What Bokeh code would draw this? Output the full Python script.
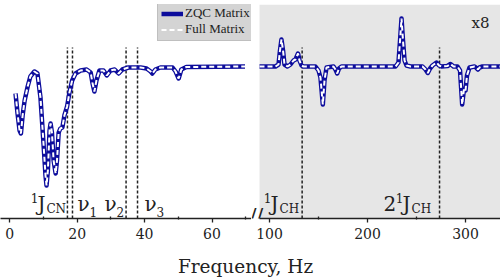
from bokeh.plotting import figure
from bokeh.models import Range1d, FixedTicker, Label, BoxAnnotation
from bokeh.layouts import row, column
from bokeh.core.properties import value
from bokeh.embed import file_html
from bokeh.resources import INLINE

# ---------------- data ----------------
left_freq = [1.7, 2.3, 2.9, 3.3, 3.8, 4.4, 5.3, 6.1, 7.3, 8.2, 9.1, 10.0, 10.6, 10.9,
             11.3, 11.8, 12.1, 12.5, 13.0, 13.6, 14.0, 14.5, 15.0, 15.6, 16.2, 17.0,
             17.7, 18.5, 19.5, 21.0, 22.8, 24.0, 24.5, 25.1, 25.7, 26.6, 27.8, 28.8,
             29.9, 31.1, 32.3, 33.4, 35.2, 38.8, 40.6, 41.8, 42.3, 43.2, 44.7, 48.3,
             49.2, 50.1, 50.9, 52.4, 69.8]
zqc_left = [-0.27, -0.47, -0.64, -0.67, -0.49, -0.34, -0.20, -0.10, -0.05, -0.07, -0.31,
            -0.77, -1.09, -1.19, -1.04, -0.64, -0.57, -0.66, -0.94, -1.07, -0.94, -0.66,
            -0.62, -0.61, -0.49, -0.40, -0.26, -0.14, -0.07, -0.04, -0.03, -0.06, -0.16,
            -0.25, -0.14, -0.04, -0.04, -0.09, -0.04, -0.03, -0.07, -0.03, -0.01, -0.01,
            -0.02, -0.05, -0.07, -0.03, -0.01, -0.01, -0.05, -0.12, -0.03, -0.005, 0.0]
full_left = list(zqc_left)

right_freq = [89.8, 106.1, 109.2, 110.7, 112.2, 113.8, 115.3, 118.4, 121.4, 124.5, 126.5,
              129.1, 130.6, 132.7, 134.7, 146.9, 150.0, 152.0, 154.4, 156.1, 158.2, 165.3,
              167.3, 169.1, 170.9, 173.5, 228.6, 231.6, 233.2, 234.7, 236.2, 237.8, 239.8,
              243.9, 256.1, 259.2, 261.5, 263.8, 266.3, 270.4, 273.0, 275.5, 281.6, 284.7,
              287.8, 291.8, 294.4, 296.6, 298.5, 300.0, 301.5, 304.1, 309.2, 311.2, 312.8,
              314.3, 317.3, 335.7]
zqc_right = [0.0, 0.0, 0.02, 0.16, 0.27, 0.16, 0.02, 0.0, 0.02, 0.06, 0.07,
             0.13, 0.06, 0.01, 0.0, 0.0, -0.04, -0.11, -0.38, -0.14, -0.01, 0.0,
             -0.03, -0.07, -0.02, 0.0, 0.0, 0.04, 0.26, 0.48, 0.26, 0.06, 0.01,
             0.0, 0.0, -0.03, -0.065, -0.02, 0.01, 0.04, 0.01, 0.0, 0.005, 0.025,
             0.0, 0.0, -0.04, -0.38, -0.22, -0.24, -0.09, -0.01, 0.0, -0.015, -0.03,
             -0.01, 0.0, 0.0]
full_right = list(zqc_right)

left_markers = [17.1, 18.6, 34.5, 37.9]
right_markers = [133.3, 273.5]
marker_top = 0.19

left_ticks = [0, 20, 40, 60]
left_minor = [10, 30, 50, 70]
right_ticks = [100, 200, 300]
right_minor = [150, 250]
right_start, right_end = 89.8, 335.7

series_names = ["ZQC Matrix", "Full Matrix"]
x_title = "Frequency, Hz"
scale_note = "x8"

# ---------------- style ----------------
NAVY = "#0c0c9c"
INK = "#222222"
SERIF = "DejaVu Serif"
Y0, Y1 = -1.52, 0.62


def base_fig(width, xr, ticks, minor):
    p = figure(width=width, height=246, x_range=Range1d(*xr), y_range=Range1d(Y0, Y1),
               output_backend="svg", toolbar_location=None, y_axis_location=None,
               min_border_left=0, min_border_right=0, min_border_top=4,
               min_border_bottom=28)
    p.outline_line_color = None
    p.grid.visible = False
    ax = p.xaxis[0]
    ax.ticker = FixedTicker(ticks=ticks, minor_ticks=minor)
    ax.axis_line_color = INK
    ax.axis_line_width = 1.3
    ax.major_tick_line_color = INK
    ax.major_tick_line_width = 1.3
    ax.major_tick_in = 0
    ax.major_tick_out = 4
    ax.minor_tick_line_color = INK
    ax.minor_tick_line_width = 1.3
    ax.minor_tick_in = 2
    ax.minor_tick_out = 1
    ax.major_label_text_font = SERIF
    ax.major_label_text_font_size = "14px"
    ax.major_label_text_color = INK
    ax.major_label_standoff = 5
    return p


def txt(p, xs, ys, texts, size, align="left", xoff=0):
    p.text(x=xs, y=ys, text=texts, text_font=value(SERIF), text_font_size=size,
           text_align=align, text_baseline="alphabetic", text_color=INK, x_offset=xoff)


# ---------------- left panel ----------------
pl = base_fig(251, (-2.76, 71.72), left_ticks, left_minor)
pl.segment(x0=left_markers, x1=left_markers, y0=[Y0] * 4, y1=[marker_top] * 4,
           line_color=INK, line_width=1.5, line_dash="3 2")
pl.line(left_freq, zqc_left, line_color=NAVY, line_width=4.5, line_join="round",
        legend_label=series_names[0])
pl.line(left_freq, full_left, line_color="white", line_width=2, line_dash="5 3",
        legend_label=series_names[1])

txt(pl, [8.2, 20.1, 28.1, 40.0], [-1.37] * 4, ["J", "ν", "ν", "ν"], "20px")
txt(pl, [8.2], [-1.31], ["1"], "12px", align="right", xoff=1)
txt(pl, [8.2], [-1.42], ["CN"], "12px", xoff=9)
txt(pl, [20.1, 28.1, 40.0], [-1.45] * 3, ["1", "2", "3"], "12px", xoff=12)

lg = pl.legend[0]
lg.location = (157, 177)
lg.label_text_font = "Liberation Serif"
lg.label_text_font_size = "13px"
lg.label_text_color = INK
lg.glyph_width = 22
lg.glyph_height = 15
lg.label_height = 15
lg.label_standoff = 2
lg.spacing = 0
lg.padding = 3
lg.margin = 0
lg.background_fill_color = "#d4d4d4"
lg.background_fill_alpha = 1
lg.border_line_color = "#aaaaaa"

# ---------------- right panel ----------------
pr = base_fig(249, (81.63, right_end), right_ticks, right_minor)
pr.xaxis[0].bounds = (right_start, right_end)
pr.add_layout(BoxAnnotation(left=right_start, fill_color="#e6e6e6", fill_alpha=1,
                            line_color=None, level="underlay"))
pr.segment(x0=right_markers, x1=right_markers, y0=[Y0] * 2, y1=[marker_top] * 2,
           line_color=INK, line_width=1.5, line_dash="3 2")
pr.line(right_freq, zqc_right, line_color=NAVY, line_width=4.5, line_join="round")
pr.line(right_freq, full_right, line_color="white", line_width=2, line_dash="5 3")

txt(pr, [101.0, 216.3, 235.7], [-1.37] * 3, ["J", "2", "J"], "20px")
txt(pr, [101.0, 235.7], [-1.31] * 2, ["1", "1"], "12px", align="right", xoff=1)
txt(pr, [101.0, 235.7], [-1.42] * 2, ["CH", "CH"], "12px", xoff=9)
txt(pr, [324.5], [0.44], [scale_note], "15px", align="right")

# axis-break mark, kept just above the axis line so it stays inside the frame
pr.add_layout(Label(x=right_start, y=Y0 + 0.035, text="//", x_offset=-3,
                    text_font="DejaVu Sans", text_font_size="20px", text_align="center",
                    text_baseline="alphabetic", text_color=INK))

# ---------------- axis title ----------------
pt = figure(width=500, height=34, x_range=Range1d(0, 500), y_range=Range1d(0, 34),
            output_backend="svg", toolbar_location=None, x_axis_location=None,
            y_axis_location=None, min_border=0)
pt.outline_line_color = None
pt.grid.visible = False
pt.add_layout(Label(x=245, y=14, text=x_title, text_font=SERIF, text_font_size="18.5px",
                    text_align="center", text_baseline="alphabetic", text_color=INK))

layout = column(row(pl, pr), pt)

open("out.html", "w").write(file_html(layout, INLINE))
